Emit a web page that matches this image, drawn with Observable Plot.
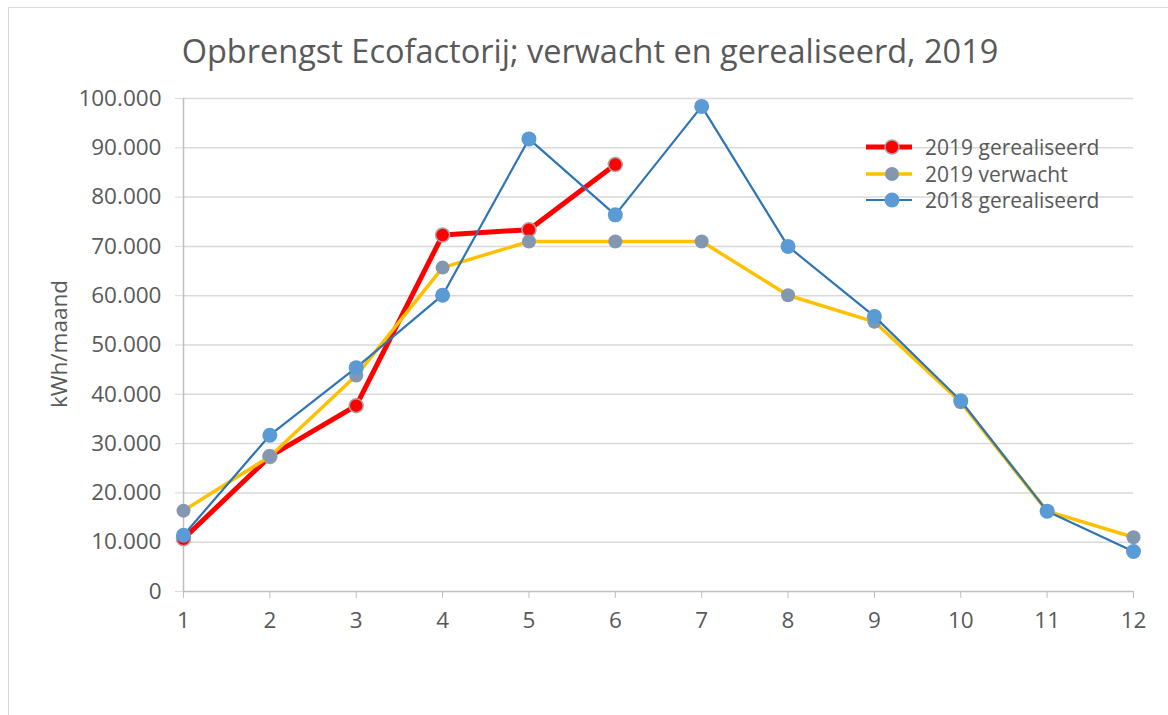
<!DOCTYPE html>
<html>
<head>
<meta charset="utf-8">
<script src="https://cdn.jsdelivr.net/npm/d3@7"></script>
<script src="https://cdn.jsdelivr.net/npm/@observablehq/plot@0.6"></script>
<style>
  html, body { margin: 0; padding: 0; background: #fff; }
  #wrap { position: relative; width: 1168px; height: 715px; overflow: hidden; font-family: "Open Sans", sans-serif; }
  #frame { position: absolute; left: 8px; top: 7px; width: 1300px; height: 900px; border-left: 1.5px solid #d9d9d9; border-top: 1.5px solid #d9d9d9; box-sizing: border-box; }
  #chart { position: absolute; left: 0; top: 0; }
  #title { position: absolute; left: 0; width: 1180px; top: 29px; text-align: center; color: #595959; font-size: 32.5px; line-height: 44px; white-space: nowrap; }
  #ylabel { position: absolute; left: 58px; top: 344px; transform: translate(-50%, -50%) rotate(-90deg); color: #595959; font-size: 22.5px; white-space: nowrap; }
  #legend { position: absolute; left: 866px; top: 134px; color: #595959; font-size: 21px; }
  .row { display: flex; align-items: center; height: 26.5px; }
  .row svg { margin-right: 12px; }
</style>
</head>
<body>
<div id="wrap">
  <div id="frame"></div>
  <div id="title"></div>
  <div id="ylabel"></div>
  <div id="chart"></div>
  <div id="legend"></div>
</div>
<script>
const months = [1, 2, 3, 4, 5, 6, 7, 8, 9, 10, 11, 12];
const gerealiseerd2019 = [10700, 27400, 37700, 72300, 73400, 86600];
const verwacht2019 = [16400, 27400, 43800, 65700, 71000, 71000, 71000, 60100, 54700, 38400, 16300, 11000];
const gerealiseerd2018 = [11400, 31700, 45400, 60100, 91800, 76400, 98400, 70000, 55800, 38700, 16300, 8100];
const yTicks = [0, 10000, 20000, 30000, 40000, 50000, 60000, 70000, 80000, 90000, 100000];
const seriesNames = ["2019 gerealiseerd", "2019 verwacht", "2018 gerealiseerd"];
const titleText = "Opbrengst Ecofactorij; verwacht en gerealiseerd, 2019";
const yLabel = "kWh/maand";

document.getElementById("title").textContent = titleText;
document.getElementById("ylabel").textContent = yLabel;

const toRows = (vals, name) => vals.map((v, i) => ({month: months[i], value: v, series: name}));
const r19 = toRows(gerealiseerd2019, seriesNames[0]);
const v19 = toRows(verwacht2019, seriesNames[1]);
const r18 = toRows(gerealiseerd2018, seriesNames[2]);

const fmt = d => d === 0 ? "0" : d3.format(",")(d).replace(/,/g, ".");

const styles = {
  [seriesNames[0]]: {line: "#FF0000", width: 5, fill: "#FF0000", stroke: "#A6A6A6", r: 7},
  [seriesNames[1]]: {line: "#FFC000", width: 3.5, fill: "#8497B0", stroke: "none", r: 7},
  [seriesNames[2]]: {line: "#2E75B6", width: 2.2, fill: "#5B9BD5", stroke: "none", r: 7.5}
};

const seriesMarks = [[r19, seriesNames[0]], [v19, seriesNames[1]], [r18, seriesNames[2]]].flatMap(([data, name]) => {
  const s = styles[name];
  return [
    Plot.line(data, {x: "month", y: "value", stroke: s.line, strokeWidth: s.width, strokeLinejoin: "round"}),
    Plot.dot(data, {x: "month", y: "value", r: s.r, fill: s.fill, stroke: s.stroke, strokeWidth: 1.5})
  ];
});

const chart = Plot.plot({
  width: 1168,
  height: 715,
  marginLeft: 183,
  marginRight: 35,
  marginTop: 98,
  marginBottom: 124,
  x: {domain: [1, 12]},
  y: {domain: [0, 100000]},
  style: {fontFamily: "Open Sans, sans-serif", fontSize: "22.5px", color: "#595959", background: "transparent", overflow: "visible"},
  marks: [
    Plot.ruleY(yTicks.slice(1), {stroke: "#d9d9d9", strokeWidth: 1.5}),
    Plot.axisY({ticks: yTicks, tickSize: 8, tickPadding: 14, tickFormat: fmt, stroke: "#d9d9d9", fill: "#595959", label: null, fontSize: 22.5}),
    Plot.axisX({ticks: months, tickSize: 7, tickPadding: 14, tickFormat: d => String(d), stroke: "#bfbfbf", fill: "#595959", label: null, fontSize: 22.5}),
    Plot.ruleX([1], {stroke: "#bfbfbf", strokeWidth: 1.5}),
    Plot.ruleY([0], {stroke: "#bfbfbf", strokeWidth: 1.5}),
    ...seriesMarks
  ]
});
document.getElementById("chart").appendChild(chart);

const legend = document.getElementById("legend");
for (const name of seriesNames) {
  const s = styles[name];
  const row = document.createElement("div");
  row.className = "row";
  row.innerHTML = `<svg width="47" height="20"><line x1="0" y1="10" x2="46" y2="10" stroke="${s.line}" stroke-width="${s.width}"/><circle cx="26" cy="10" r="${s.r}" fill="${s.fill}" stroke="${s.stroke}" stroke-width="1.5"/></svg><span>${name}</span>`;
  legend.appendChild(row);
}
</script>
</body>
</html>
